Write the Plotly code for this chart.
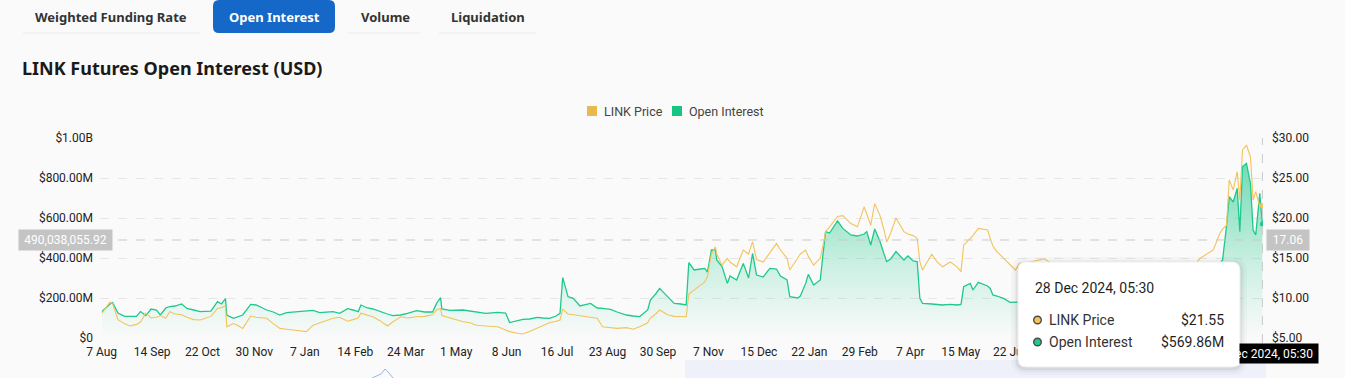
import pandas as pd
import plotly.graph_objects as go

# ---------------- data ----------------
start_time = "2022-08-07 05:30"          # first sample
day_offset = [0, 6, 8, 12, 17, 21, 26, 29, 33, 37, 41, 44, 48, 51, 55, 60, 64, 69, 74, 78,
              82, 87, 90, 93, 94, 99, 102, 106, 112, 116, 121, 124, 129, 134, 139, 144, 149, 154, 159, 164,
              170, 174, 179, 185, 189, 193, 195, 200, 204, 209, 215, 219, 225, 230, 237, 243, 249, 252, 255, 256,
              262, 272, 277, 282, 289, 298, 304, 307, 313, 317, 322, 328, 332, 337, 342, 345, 347, 351, 355, 360,
              368, 373, 377, 383, 388, 395, 400, 405, 411, 413, 417, 420, 426, 431, 436, 440, 442, 446, 451, 454,
              456, 459, 462, 463, 467, 471, 473, 478, 483, 487, 490, 493, 498, 503, 508, 511, 516, 518, 524, 526,
              530, 532, 536, 541, 543, 545, 548, 554, 558, 564, 569, 574, 576, 579, 582, 586, 589, 591, 594, 598,
              604, 607, 611, 614, 616, 618, 625, 629, 633, 639, 644, 647, 649, 654, 656, 660, 667, 669, 671, 674,
              679, 684, 688, 691, 699, 710, 722, 733, 744, 755, 767, 778, 789, 801, 812, 820, 827, 832, 837, 842,
              844, 847, 849, 852, 855, 857, 859, 862, 865, 867, 869, 872, 874]
open_interest_musd = [133, 170, 177, 125, 108, 107, 108, 132, 112, 145, 140, 115, 150, 157, 160, 170, 148, 140, 132, 133,
                      134, 182, 170, 197, 115, 98, 105, 115, 168, 165, 150, 140, 130, 115, 127, 130, 132, 135, 138, 127,
                      130, 132, 123, 147, 140, 132, 165, 150, 145, 132, 120, 112, 115, 123, 137, 130, 130, 173, 202, 145,
                      138, 140, 135, 128, 123, 128, 125, 77, 85, 93, 95, 103, 100, 98, 110, 123, 302, 207, 198, 160,
                      173, 150, 148, 143, 130, 115, 110, 107, 140, 190, 220, 248, 207, 173, 170, 165, 377, 340, 345, 348,
                      330, 440, 440, 390, 357, 273, 310, 290, 373, 300, 423, 315, 305, 348, 345, 310, 290, 207, 200, 210,
                      273, 318, 265, 290, 415, 532, 525, 585, 548, 515, 510, 520, 532, 465, 545, 482, 420, 382, 395, 432,
                      390, 410, 385, 382, 198, 173, 170, 168, 165, 168, 165, 168, 257, 273, 240, 278, 260, 248, 215, 210,
                      198, 178, 178, 180, 190, 185, 175, 160, 150, 155, 160, 170, 175, 180, 190, 200, 240, 280, 330, 370,
                      390, 560, 707, 680, 748, 532, 857, 873, 773, 540, 515, 723, 569.86]
link_price = [8.1, 9.5, 9.3, 7.3, 6.8, 6.5, 6.7, 7.0, 8.1, 7.5, 7.6, 7.8, 7.46, 8.3, 8.0, 7.9, 7.6, 7.3, 7.25, 7.5,
              7.7, 8.7, 8.8, 9.0, 6.4, 6.8, 6.6, 6.2, 7.75, 7.6, 7.5, 7.46, 6.8, 6.2, 6.1, 6.0, 5.9, 5.8, 6.6, 6.9,
              7.25, 7.46, 7.6, 7.1, 7.3, 7.5, 8.1, 7.9, 7.66, 7.2, 6.5, 7.0, 7.66, 7.5, 7.66, 7.7, 7.9, 8.5, 8.7, 7.8,
              7.5, 7.04, 6.9, 6.6, 6.5, 6.4, 6.0, 5.8, 5.6, 5.5, 5.8, 6.2, 6.5, 6.9, 7.1, 7.25, 8.6, 8.0, 7.9, 7.8,
              7.6, 7.46, 6.4, 6.3, 6.2, 6.3, 6.1, 6.4, 6.9, 7.5, 8.0, 8.5, 7.9, 7.7, 7.7, 7.66, 10.5, 11.0, 11.6, 12.0,
              12.66, 15.5, 16.4, 15.5, 14.1, 14.96, 14.5, 13.9, 16.0, 15.5, 17.04, 14.8, 14.5, 15.6, 16.8, 16.0, 14.96, 13.5, 14.96, 15.5,
              16.0, 15.2, 14.1, 15.0, 16.5, 18.3, 18.9, 20.2, 20.3, 19.3, 18.9, 21.4, 20.5, 19.1, 21.8, 20.3, 18.5, 17.0, 18.1, 20.0,
              18.3, 18.0, 17.8, 17.46, 14.5, 13.5, 15.46, 14.5, 13.9, 14.5, 13.9, 13.3, 16.6, 17.46, 17.8, 18.7, 18.5, 17.46, 16.5, 15.8,
              14.96, 14.1, 13.5, 14.3, 14.5, 14.9, 13.5, 12.0, 11.0, 11.2, 11.5, 12.0, 12.2, 12.5, 12.8, 13.5, 14.96, 15.5, 16.0, 18.1,
              18.6, 19.1, 24.75, 23.5, 25.8, 22.25, 28.5, 29.1, 27.66, 22.25, 23.3, 21.4, 21.55]

# visible x-axis labels (the later ones sit under the tooltip in the reference)
tick_dates = ["2022-08-07", "2022-09-14", "2022-10-22", "2022-11-30", "2023-01-07", "2023-02-14",
              "2023-03-24", "2023-05-01", "2023-06-08", "2023-07-16", "2023-08-23", "2023-09-30",
              "2023-11-07", "2023-12-15", "2024-01-22", "2024-02-29", "2024-04-07", "2024-05-15",
              "2024-06-22"]
tick_labels = ["7 Aug", "14 Sep", "22 Oct", "30 Nov", "7 Jan", "14 Feb", "24 Mar", "1 May", "8 Jun",
               "16 Jul", "23 Aug", "30 Sep", "7 Nov", "15 Dec", "22 Jan", "29 Feb", "7 Apr", "15 May",
               "22 Jun"]
left_tick_vals = [0, 200e6, 400e6, 600e6, 800e6, 1000e6]
left_tick_text = ["$0", "$200.00M", "$400.00M", "$600.00M", "$800.00M", "$1.00B"]
right_tick_vals = [5, 10, 15, 20, 25, 30]
right_tick_text = ["$5.00", "$10.00", "$15.00", "$20.00", "$25.00", "$30.00"]

tabs = ["Weighted Funding Rate", "Open Interest", "Volume", "Liquidation"]
title_text = "LINK Futures Open Interest (USD)"
series_names = ["LINK Price", "Open Interest"]
cross_oi_value = 490038055.92
cross_oi_label = "490,038,055.92"
cross_price_label = "17.06"
hover_time_label = "28 Dec 2024, 05:30"
hover_price_text = "$21.55"
hover_oi_text = "$569.86M"

# ---------------- styling ----------------
BG = "#fafafa"
GREEN = "#1ec98b"
YELLOW = "#f4c35a"
LEG_YELLOW = "#e8b94f"
LEG_GREEN = "#17c583"
FONT = "Roboto"
TABFONT = "Noto Sans"

W, H = 1345, 378
L, R, T, B = 100, 1263, 138, 338


def fx(px):
    return (px - L) / (R - L)


def fy(py):
    return (B - py) / (B - T)


def rrect(x0, y0, x1, y1, r):
    pts = [("M", [(x0 + r, y0)]), ("L", [(x1 - r, y0)]), ("Q", [(x1, y0), (x1, y0 + r)]),
           ("L", [(x1, y1 - r)]), ("Q", [(x1, y1), (x1 - r, y1)]), ("L", [(x0 + r, y1)]),
           ("Q", [(x0, y1), (x0, y1 - r)]), ("L", [(x0, y0 + r)]), ("Q", [(x0, y0), (x0 + r, y0)])]
    s = ""
    for cmd, ps in pts:
        s += cmd + " " + " ".join(f"{fx(a):.5f},{fy(b):.5f}" for a, b in ps) + " "
    return s + "Z"


t0 = pd.Timestamp(start_time)
dates = [t0 + pd.Timedelta(days=d) for d in day_offset]
oi_usd = [v * 1e6 for v in open_interest_musd]

fig = go.Figure()
fig.add_trace(go.Scatter(
    x=dates, y=oi_usd, name=series_names[1], mode="lines",
    line=dict(color=GREEN, width=1.3), fill="tozeroy",
    fillgradient=dict(type="vertical", start=0, stop=1e9,
                      colorscale=[[0, "rgba(30,201,139,0.0)"], [0.35, "rgba(30,201,139,0.2)"],
                                  [1, "rgba(30,201,139,0.72)"]]),
    yaxis="y", showlegend=False))
fig.add_trace(go.Scatter(
    x=dates, y=link_price, name=series_names[0], mode="lines",
    line=dict(color=YELLOW, width=1.1), yaxis="y2", showlegend=False))
# hovered points (last sample)
fig.add_trace(go.Scatter(x=[dates[-1]], y=[oi_usd[-1]], mode="markers", yaxis="y",
                         marker=dict(color=GREEN, size=5), showlegend=False))
fig.add_trace(go.Scatter(x=[dates[-1]], y=[link_price[-1]], mode="markers", yaxis="y2",
                         marker=dict(color=YELLOW, size=5), showlegend=False))

shapes = []
annotations = []

# ---- tabs ----
tab_centers = [111, 274, 385, 488]
underlines = [(23, 200), None, (348, 420), (439, 536)]
shapes.append(dict(type="path", xref="paper", yref="paper", path=rrect(213, 0, 335, 33, 6),
                   fillcolor="#1668c8", line=dict(width=0), layer="below"))
for name, cx, ul in zip(tabs, tab_centers, underlines):
    sel = name == "Open Interest"
    annotations.append(dict(xref="paper", yref="paper", x=fx(cx), y=fy(16.5), text=f"<b>{name}</b>",
                            showarrow=False, xanchor="center", yanchor="middle",
                            font=dict(family=TABFONT, size=13, color="#ffffff" if sel else "#333333")))
    if ul:
        shapes.append(dict(type="line", xref="paper", yref="paper", x0=fx(ul[0]), x1=fx(ul[1]),
                           y0=fy(33), y1=fy(33), line=dict(color="#ececec", width=1), layer="below"))

# ---- title ----
annotations.append(dict(xref="paper", yref="paper", x=fx(20), y=fy(68), text=f"<b>{title_text}</b>",
                        showarrow=False, xanchor="left", yanchor="middle",
                        font=dict(family=TABFONT, size=18, color="#1a1a1a")))

# ---- legend (manual) ----
for (sx, tx, col, name) in [(587, 602, LEG_YELLOW, series_names[0]), (672, 687, LEG_GREEN, series_names[1])]:
    shapes.append(dict(type="rect", xref="paper", yref="paper", x0=fx(sx), x1=fx(sx + 10),
                       y0=fy(106), y1=fy(116), fillcolor=col, line=dict(width=0)))
    annotations.append(dict(xref="paper", yref="paper", x=fx(tx), y=fy(111), text=name,
                            showarrow=False, xanchor="left", yanchor="middle",
                            font=dict(family=FONT, size=12.5, color="#444444")))

# ---- bottom slider hint ----
shapes.append(dict(type="rect", xref="paper", yref="paper", x0=fx(685), x1=fx(1266),
                   y0=fy(360), y1=fy(378), fillcolor="#eef0fa", line=dict(width=0), layer="below"))
shapes.append(dict(type="path", xref="paper", yref="paper",
                   path=f"M {fx(372):.5f},{fy(378):.5f} L {fx(381):.5f},{fy(374):.5f} L {fx(385):.5f},{fy(369):.5f} "
                        f"L {fx(389):.5f},{fy(373):.5f} L {fx(393):.5f},{fy(378):.5f}",
                   line=dict(color="#9fb2e6", width=1), layer="below"))

# ---- crosshair ----
shapes.append(dict(type="line", xref="paper", yref="y", x0=0, x1=1, y0=cross_oi_value, y1=cross_oi_value,
                   line=dict(color="#c9c9c9", width=1, dash="dash"), layer="above"))
shapes.append(dict(type="line", xref="x", yref="paper", x0=dates[-1], x1=dates[-1], y0=fy(343), y1=1,
                   line=dict(color="#c9c9c9", width=1, dash="dash"), layer="above"))
annotations.append(dict(xref="paper", yref="y", x=fx(113), y=cross_oi_value, text=cross_oi_label,
                        showarrow=False, xanchor="right", yanchor="middle", bgcolor="#c4c4c4",
                        borderpad=3, width=87, height=14,
                        font=dict(family=FONT, size=12, color="#ffffff")))
annotations.append(dict(xref="paper", yref="y", x=fx(1266), y=cross_oi_value, text=cross_price_label,
                        showarrow=False, xanchor="left", yanchor="middle", bgcolor="#c4c4c4",
                        borderpad=3, width=36, height=14,
                        font=dict(family=FONT, size=12, color="#ffffff")))
annotations.append(dict(xref="x", yref="paper", x=dates[-1], y=fy(343), text=hover_time_label,
                        showarrow=False, xanchor="center", yanchor="top", bgcolor="#000000",
                        borderpad=3, width=106, height=13,
                        font=dict(family=FONT, size=12, color="#ffffff")))

# ---- tooltip ----
for grow, alpha in [(7, 0.025), (4, 0.035), (2, 0.05)]:
    shapes.append(dict(type="path", xref="paper", yref="paper",
                       path=rrect(1018 - grow, 262 - grow + 2, 1240 + grow, 367 + grow + 1, 8 + grow),
                       fillcolor=f"rgba(0,0,0,{alpha})", line=dict(width=0), layer="above"))
shapes.append(dict(type="path", xref="paper", yref="paper", path=rrect(1018, 262, 1240, 367, 8),
                   fillcolor="#ffffff", line=dict(color="#eeeeee", width=1), layer="above"))
# cover the part of the axis label that lies under the tooltip
annotations.append(dict(xref="paper", yref="paper", x=fx(1239.5), y=fy(341), text=" ",
                        showarrow=False, xanchor="right", yanchor="top", bgcolor="#ffffff",
                        borderpad=0, width=36, height=23))
annotations.append(dict(xref="paper", yref="paper", x=fx(1033), y=fy(288), text=hover_time_label,
                        showarrow=False, xanchor="left", yanchor="middle",
                        font=dict(family=FONT, size=14, color="#1f1f1f")))
for rowy, col, name, val in [(320, YELLOW, series_names[0], hover_price_text),
                             (342, GREEN, series_names[1], hover_oi_text)]:
    r = 3.8
    shapes.append(dict(type="circle", xref="paper", yref="paper", x0=fx(1037.5 - r), x1=fx(1037.5 + r),
                       y0=fy(rowy + r), y1=fy(rowy - r), fillcolor=col,
                       line=dict(color="#4a4a4a", width=1.4), layer="above"))
    annotations.append(dict(xref="paper", yref="paper", x=fx(1047), y=fy(rowy), text=name,
                            showarrow=False, xanchor="left", yanchor="middle",
                            font=dict(family=FONT, size=14, color="#333333")))
    annotations.append(dict(xref="paper", yref="paper", x=fx(1226), y=fy(rowy), text=val,
                            showarrow=False, xanchor="right", yanchor="middle",
                            font=dict(family=FONT, size=14, color="#1f1f1f")))

fig.update_layout(
    width=W, height=H,
    margin=dict(l=L, r=W - R, t=T, b=H - B),
    paper_bgcolor=BG, plot_bgcolor=BG,
    hovermode=False, showlegend=False,
    font=dict(family=FONT, size=12, color="#222222"),
    xaxis=dict(type="date", range=[t0 - pd.Timedelta(days=1.5), t0 + pd.Timedelta(days=874.45)],
               tickvals=tick_dates, ticktext=tick_labels, showgrid=False, zeroline=False,
               showline=False, ticks="", ticklabelstandoff=5,
               tickfont=dict(family=FONT, size=12, color="#222222")),
    yaxis=dict(range=[0, 1e9], tickvals=left_tick_vals, ticktext=left_tick_text,
               showgrid=True, gridcolor="#e6e6e6", griddash="dash", gridwidth=1,
               zeroline=False, showline=False, ticks="", ticklabelstandoff=6,
               tickfont=dict(family=FONT, size=12, color="#222222")),
    yaxis2=dict(range=[5, 30], tickvals=right_tick_vals, ticktext=right_tick_text,
                overlaying="y", side="right", showgrid=False, zeroline=False, showline=False,
                ticks="", ticklabelstandoff=8,
                tickfont=dict(family=FONT, size=12, color="#222222")),
    shapes=shapes, annotations=annotations,
)

fig.write_html("out.html", config={"displayModeBar": False, "staticPlot": True},
               post_script="document.body.style.margin='0';document.body.style.padding='0';"
                           "document.body.style.background='#fafafa';")
